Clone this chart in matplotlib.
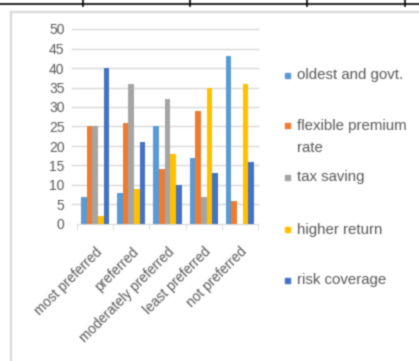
import matplotlib
matplotlib.use("Agg")
import matplotlib.pyplot as plt
from matplotlib.patches import Rectangle
from matplotlib.lines import Line2D
import numpy as np

categories = ["most preferred", "preferred", "moderately preferred",
              "least preferred", "not preferred"]
series_names = ["oldest and govt.", "flexible premium\nrate", "tax saving",
                "higher return", "risk coverage"]
oldest_and_govt = [7, 8, 25, 17, 43]
flexible_premium_rate = [25, 26, 14, 29, 6]
tax_saving = [25, 36, 32, 7, 0]
higher_return = [2, 9, 18, 35, 36]
risk_coverage = [40, 21, 10, 13, 16]
y_ticks = [0, 5, 10, 15, 20, 25, 30, 35, 40, 45, 50]

series_values = [oldest_and_govt, flexible_premium_rate, tax_saving,
                 higher_return, risk_coverage]
colors = ["#5B9BD5", "#ED7D31", "#A5A5A5", "#FFC000", "#4472C4"]
text_color = "#595959"

W, H = 419, 361
plt.rcParams["font.family"] = ["Liberation Sans", "DejaVu Sans"]
fig = plt.figure(figsize=(W / 100, H / 100), dpi=100)


def fx(px):
    return px / W


def fy(py):
    return 1 - py / H


# page rule and chart frame
fig.add_artist(Line2D([0, 1], [fy(4), fy(4)], color="black", lw=1.2))
for xp in [83, 190, 307, 405]:
    fig.add_artist(Line2D([fx(xp), fx(xp)], [fy(0), fy(5.5)], color="black", lw=1.2))
fig.add_artist(Line2D([fx(11), fx(11)], [fy(12), 0], color="#D9D9D9", lw=1.6))
fig.add_artist(Line2D([fx(11), 1], [fy(12), fy(12)], color="#D9D9D9", lw=1.6))

ax = fig.add_axes([fx(77), fy(224), fx(258) - fx(77), fy(29) - fy(224)])
x = np.arange(len(categories))
bw = 0.156
for i, (vals, c) in enumerate(zip(series_values, colors)):
    ax.bar(x + (i - 2) * bw, vals, width=bw, color=c, zorder=3)

ax.set_xlim(-0.5, len(categories) - 0.5)
ax.set_ylim(0, 50)
ax.set_yticks(y_ticks)
ax.set_yticklabels([str(t) for t in y_ticks], color=text_color, fontsize=10)
for t in y_ticks[1:]:
    ax.add_artist(Line2D([-0.64, len(categories) - 0.5], [t, t], color="#D9D9D9",
                         lw=1.0, clip_on=False, zorder=1))
ax.tick_params(axis="y", length=0, pad=9)
ax.set_xticks(np.arange(-0.5, len(categories), 1.0), minor=True)
ax.set_xticks(x)
ax.set_xticklabels(categories, rotation=45, ha="right", rotation_mode="anchor",
                   color=text_color, fontsize=9.9)
ax.tick_params(axis="x", which="major", length=0, pad=15)
ax.tick_params(axis="x", which="minor", length=4, color="#D9D9D9", direction="out")
for s in ["top", "right", "left"]:
    ax.spines[s].set_visible(False)
ax.spines["bottom"].set_color("#D9D9D9")

# legend
legend_rows = [75, 125, 177, 230, 280]
for name, c, yp in zip(series_names, colors, legend_rows):
    fig.add_artist(Rectangle((fx(285), fy(yp + 2.5)), fx(5), 5 / H, color=c,
                             transform=fig.transFigure))
    if "\n" in name:
        fig.text(fx(297), fy(yp - 6), name, color=text_color, fontsize=10.8,
                 va="top", linespacing=1.7)
    else:
        fig.text(fx(297), fy(yp), name, color=text_color, fontsize=10.8,
                 va="center")

# soften the rendered image slightly
fig.canvas.draw()
img = np.asarray(fig.canvas.buffer_rgba()).astype(float) / 255.0
k = np.array([0.2, 0.6, 0.2])
pad = np.pad(img, ((1, 1), (1, 1), (0, 0)), mode="edge")
img = k[0] * pad[:-2, 1:-1] + k[1] * pad[1:-1, 1:-1] + k[2] * pad[2:, 1:-1]
pad = np.pad(img, ((0, 0), (1, 1), (0, 0)), mode="edge")
img = k[0] * pad[:, :-2] + k[1] * pad[:, 1:-1] + k[2] * pad[:, 2:]
plt.imsave("out.png", np.clip(img, 0, 1))
